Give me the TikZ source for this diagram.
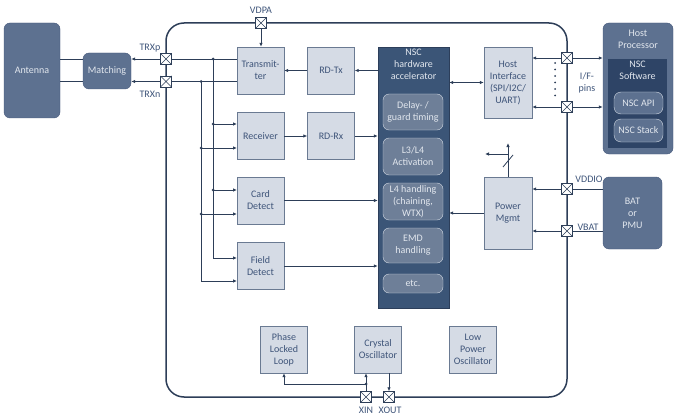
\documentclass[tikz,border=0pt]{standalone}
\usepackage{fontspec}
\setmainfont{Carlito}
\usetikzlibrary{arrows.meta}

\definecolor{wire}{HTML}{2D3E58}
\definecolor{lightfill}{HTML}{D5DBE5}
\definecolor{lightline}{HTML}{6A7A92}
\definecolor{lighttext}{HTML}{3E5479}
\definecolor{slatefill}{HTML}{5D7190}
\definecolor{slateline}{HTML}{44577A}
\definecolor{navyfill}{HTML}{3B5577}
\definecolor{navyline}{HTML}{2C3E5A}
\definecolor{subfill}{HTML}{6E7F98}
\definecolor{subline}{HTML}{D3DAE4}
\definecolor{softfill}{HTML}{2E4466}
\definecolor{paletext}{HTML}{E2E7EE}

\begin{document}
\begin{tikzpicture}[x=1pt,y=-1pt,
	>={Latex[length=4pt,width=3.5pt]},
	font=\fontsize{10}{12}\selectfont,
	blk/.style={draw=lightline,fill=lightfill,text=lighttext,minimum width=47pt,minimum height=47pt,align=center,inner sep=1pt},
	ext/.style={draw=slateline,fill=slatefill,text=paletext,rounded corners=6pt,align=center,inner sep=1pt},
	sub/.style={draw=subline,fill=subfill,text=paletext,rounded corners=6pt,minimum width=60pt,align=center,inner sep=0pt},
	pad/.style={draw=wire,fill=white,minimum size=11pt,inner sep=0pt,
		path picture={\draw[wire] (path picture bounding box.north west) -- (path picture bounding box.south east)
			(path picture bounding box.north east) -- (path picture bounding box.south west);}},
	pin/.style={text=lighttext,inner sep=1pt},
	dot/.style={circle,fill=wire,inner sep=0pt,minimum size=3pt}]
	\useasboundingbox (0,0) rectangle (678,420);

	% chip outline
	\draw[wire,line width=1.5pt,rounded corners=18pt] (166,23) rectangle (567,397);

	% outside blocks
	\node (ant) at (32,70.5)[ext,minimum width=56pt,minimum height=95pt] {Antenna};
	\node (match) at (107,71)[ext,minimum width=48pt,minimum height=36pt] {Matching};
	\node (hp) at (638,88.5)[ext,minimum width=70pt,minimum height=131pt] {};
	\node (hptitle) at (638,30)[anchor=north,text=paletext,align=center,inner sep=0pt] {Host\\Processor};
	\node (sw) at (637.5,103.5)[fill=softfill,minimum width=59pt,minimum height=89pt,inner sep=0pt] {};
	\node (swtitle) at (637.5,61)[anchor=north,text=paletext,align=center,inner sep=0pt] {NSC\\Software};
	\node (api) at (638.5,103)[ext,draw=subline,fill=slatefill,minimum width=49pt,minimum height=22pt,rounded corners=7pt] {NSC API};
	\node (stack) at (638.5,130.5)[ext,draw=subline,fill=slatefill,minimum width=49pt,minimum height=23pt,rounded corners=7pt] {NSC Stack};
	\node (bat) at (632.5,213)[ext,minimum width=59pt,minimum height=72pt] {BAT\\or\\PMU};

	% on-chip blocks
	\node (tx) at (260.5,70.5)[blk] {Transmit-\\ter};
	\node (rdtx) at (331,70.5)[blk] {RD-Tx};
	\node (rx) at (260.5,136)[blk] {Receiver};
	\node (rdrx) at (331,136)[blk] {RD-Rx};
	\node (cd) at (260.5,200.5)[blk] {Card\\Detect};
	\node (fd) at (260.5,266)[blk] {Field\\Detect};
	\node (hi) at (508,82.5)[blk,minimum width=48pt,minimum height=71pt] {Host\\Interface\\(SPI/I2C/\\UART)};
	\node (pm) at (508,213)[blk,minimum width=48pt,minimum height=72pt] {Power\\Mgmt};
	\node (pll) at (284,349.5)[blk] {Phase\\Locked\\Loop};
	\node (xo) at (378,349.5)[blk] {Crystal\\Oscillator};
	\node (lpo) at (473,349.5)[blk] {Low\\Power\\Oscillator};

	% NSC hardware accelerator
	\node (nsc) at (413.5,177.5)[draw=navyline,fill=navyfill,minimum width=71pt,minimum height=261pt,inner sep=0pt] {};
	\node (nsctitle) at (413.5,49)[anchor=north,text=paletext,align=center,inner sep=0pt] {NSC\\hardware\\accelerator};
	\node (delay) at (413,112)[sub,minimum height=36pt] {Delay- /\\guard timing};
	\node (act) at (413,156.5)[sub,minimum height=37pt] {L3/L4\\Activation};
	\node (l4) at (413,201.5)[sub,minimum height=37pt] {L4 handling\\(chaining,\\WTX)};
	\node (emd) at (413,245.5)[sub,minimum height=35pt] {EMD\\handling};
	\node (etc) at (413,283.5)[sub,minimum height=19pt] {etc.};

	% pads
	\node (trxp) at (166,59)[pad] {};
	\node (trxn) at (166,81.5)[pad] {};
	\node (vdpa) at (261,23)[pad] {};
	\node (ifa) at (567,58)[pad] {};
	\node (ifb) at (567,107)[pad] {};
	\node (vddio) at (567,189)[pad] {};
	\node (vbat) at (567,231)[pad] {};
	\node (xin) at (366,397)[pad] {};
	\node (xout) at (389,397)[pad] {};

	\node at (150,48)[pin] {TRXp};
	\node at (150,94)[pin] {TRXn};
	\node at (261,10)[pin] {VDPA};
	\node at (587,83)[pin,align=center] {I/F-\\pins};
	\node at (589,179)[pin] {VDDIO};
	\node at (588,227)[pin] {VBAT};
	\node at (366,410)[pin] {XIN};
	\node at (390,410)[pin] {XOUT};

	% RF side
	\begin{scope}[wire,line width=0.8pt]
		\draw (ant.east |- trxp) -- (match.west |- trxp);
		\draw (ant.east |- trxn) -- (match.west |- trxn);
		\draw[->] (trxp.west) -- (match.east |- trxp);
		\draw[->] (trxn.west) -- (match.east |- trxn);
		\draw (trxp.east) -- (tx.west |- trxp);
		\draw (trxn.east) -- (tx.west |- trxn);
		\draw[->] (vdpa.south) -- (vdpa |- tx.north);

		\coordinate (bp) at (213,59);
		\coordinate (bn) at (201,81.5);
		\coordinate (rxa) at (237,124);
		\coordinate (rxb) at (237,148);
		\coordinate (cda) at (237,190);
		\coordinate (cdb) at (237,214);
		\coordinate (fda) at (237,258);
		\coordinate (fdb) at (237,281);
		\draw[->] (bp) |- (fda);
		\draw[->] (bn) |- (fdb);
		\draw[->] (bp |- rxa) -- (rxa);
		\draw[->] (bn |- rxb) -- (rxb);
		\draw[->] (bp |- cda) -- (cda);
		\draw[->] (bn |- cdb) -- (cdb);
		\foreach \p in {bp,bp |- rxa,bp |- cda,bn,bn |- rxb,bn |- cdb}
			\node[dot] at (\p) {};

		% digital paths
		\draw[->] (rdtx.west) -- (tx.east);
		\draw[->] (nsc.west |- rdtx) -- (rdtx.east);
		\draw[->] (rx.east) -- (rdrx.west);
		\draw[->] (rdrx.east) -- (nsc.west |- rdrx);
		\draw[->] (cd.east) -- (nsc.west |- cd);
		\draw[->] (fd.east) -- (nsc.west |- fd);
		\draw[<->] (nsc.east |- hi) -- (hi.west);
		\draw[->] (pm.west) -- (nsc.east |- pm);

		% host and supply pins
		\draw[<->] (hi.east |- ifa) -- (hp.west |- ifa);
		\draw[<->] (hi.east |- ifb) -- (hp.west |- ifb);
		\draw[->] (bat.west |- vddio) -- (pm.east |- vddio);
		\draw[->] (bat.west |- vbat) -- (pm.east |- vbat);

		\coordinate (pmout) at (508,143);
		\coordinate (pmbr) at (508,154);
		\coordinate (pmleft) at (485,154);
		\draw[->] (pm.north) -- (pmout);
		\draw[->] (pmbr) -- (pmleft);
		\draw (503,167) -- (513,155);

		% clock
		\coordinate (xbr) at (366,384);
		\draw[->] (xin.north) -- (xin |- xo.south);
		\draw[->] (xbr) -| (pll.south);
		\draw[->] (xout |- xo.south) -- (xout.north);
		\node[dot] at (xbr) {};
	\end{scope}

	\draw[wire,line width=2pt,line cap=round,dash pattern=on 0pt off 6.5pt] (555,63) -- (555,102);

	% pads on top of wires
	\foreach \p in {trxp,trxn,vdpa,ifa,ifb,vddio,vbat,xin,xout}
		\node[pad] at (\p) {};
\end{tikzpicture}
\end{document}
